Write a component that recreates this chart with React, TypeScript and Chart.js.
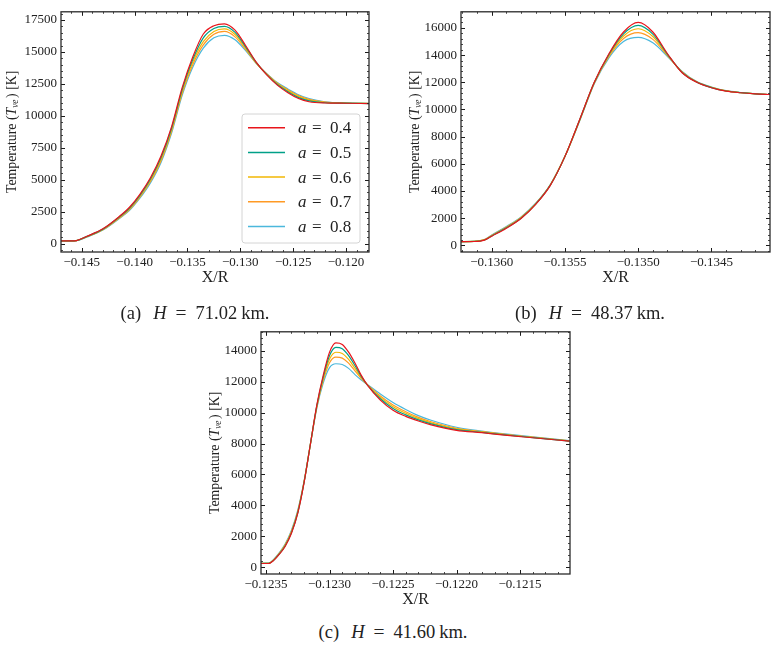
import React, { useEffect, useRef } from "react";
import { Chart, registerables } from "chart.js";

Chart.register(...registerables);

const SERIF = "'Liberation Serif', 'Times New Roman', serif";

// Shared series styling
const aLabels = ["a = 0.4", "a = 0.5", "a = 0.6", "a = 0.7", "a = 0.8"];
const lineColors = ["#e8151b", "#00a088", "#f2b705", "#ff9a24", "#4bb8dc"];

// ---------- Panel (a): H = 71.02 km ----------
const xA = [-0.147, -0.146, -0.1455, -0.1445, -0.143, -0.1415, -0.1405, -0.1395, -0.1385, -0.1375, -0.1365, -0.1355, -0.1345, -0.1335, -0.1325, -0.1315, -0.1305, -0.1295, -0.1285, -0.1275, -0.1265, -0.1255, -0.1245, -0.1235, -0.122, -0.12, -0.1178];
const tA04 = [200, 200, 232, 570, 1150, 2080, 2820, 3850, 5150, 6850, 9150, 12200, 14600, 16400, 17050, 17200, 16700, 15500, 14200, 13200, 12400, 11800, 11350, 11100, 11000, 10980, 10950];
const tA05 = [200, 200, 229, 555, 1125, 2040, 2760, 3775, 5050, 6725, 9025, 12050, 14400, 16100, 16830, 17000, 16530, 15400, 14180, 13220, 12450, 11880, 11420, 11160, 11020, 10985, 10955];
const tA06 = [200, 200, 225, 540, 1100, 2000, 2700, 3700, 4950, 6600, 8900, 11900, 14200, 15800, 16600, 16800, 16360, 15300, 14150, 13250, 12500, 11950, 11500, 11220, 11050, 10990, 10960];
const tA07 = [200, 200, 222, 525, 1075, 1960, 2640, 3625, 4850, 6475, 8775, 11750, 14000, 15550, 16380, 16600, 16180, 15200, 14120, 13280, 12550, 12030, 11580, 11290, 11080, 10995, 10965];
const tA08 = [200, 200, 218, 510, 1050, 1920, 2580, 3550, 4750, 6350, 8650, 11600, 13800, 15300, 16100, 16300, 15950, 15100, 14100, 13300, 12600, 12100, 11650, 11350, 11100, 11000, 10970];
const xTicksA = [-0.145, -0.14, -0.135, -0.13, -0.125, -0.12];
const yTicksA = [0, 2500, 5000, 7500, 10000, 12500, 15000, 17500];

// ---------- Panel (b): H = 48.37 km ----------
const xB = [-0.13621, -0.13612, -0.13605, -0.136, -0.1359, -0.1358, -0.1357, -0.1356, -0.1355, -0.1354, -0.1353, -0.1352, -0.1351, -0.135, -0.1349, -0.1348, -0.1347, -0.1346, -0.1345, -0.1344, -0.1343, -0.1342, -0.1341];
const tB04 = [280, 290, 390, 680, 1270, 1980, 3020, 4420, 6550, 9250, 12000, 14100, 15700, 16400, 15700, 14100, 12700, 12000, 11600, 11350, 11230, 11150, 11100];
const tB05 = [280, 292, 400, 698, 1294, 2004, 3036, 4432, 6550, 9230, 11980, 14040, 15560, 16180, 15540, 14060, 12720, 12010, 11610, 11356, 11234, 11152, 11100];
const tB06 = [280, 294, 411, 718, 1320, 2030, 3054, 4445, 6550, 9208, 11958, 13974, 15406, 15938, 15364, 14016, 12742, 12021, 11621, 11363, 11238, 11154, 11100];
const tB07 = [280, 297, 424, 741, 1352, 2062, 3074, 4461, 6550, 9182, 11932, 13896, 15224, 15652, 15156, 13964, 12768, 12034, 11634, 11370, 11244, 11157, 11100];
const tB08 = [280, 300, 440, 770, 1390, 2100, 3100, 4480, 6550, 9150, 11900, 13800, 15000, 15300, 14900, 13900, 12800, 12050, 11650, 11380, 11250, 11160, 11100];
const xTicksB = [-0.136, -0.1355, -0.135, -0.1345];
const yTicksB = [0, 2000, 4000, 6000, 8000, 10000, 12000, 14000, 16000];

// ---------- Panel (c): H = 41.60 km ----------
const xC = [-0.12354, -0.12348, -0.12344, -0.1234, -0.12335, -0.1233, -0.12325, -0.1232, -0.12315, -0.1231, -0.12305, -0.123, -0.12295, -0.1229, -0.12285, -0.1228, -0.12275, -0.1227, -0.1226, -0.1225, -0.1224, -0.1223, -0.1222, -0.122, -0.1218, -0.1216, -0.1214, -0.12111];
const tC04 = [250, 250, 450, 800, 1350, 2200, 3500, 5500, 8000, 10500, 12400, 13900, 14500, 14400, 13900, 13200, 12400, 11750, 10800, 10150, 9750, 9450, 9200, 8850, 8700, 8520, 8370, 8150];
const tC05 = [252, 254, 465, 822, 1383, 2244, 3544, 5522, 8000, 10456, 12290, 13680, 14203, 14114, 13669, 13035, 12334, 11761, 10888, 10260, 9849, 9527, 9266, 8894, 8722, 8538, 8383, 8157];
const tC06 = [254, 259, 481, 845, 1418, 2290, 3590, 5545, 8000, 10410, 12175, 13450, 13893, 13815, 13428, 12863, 12265, 11773, 10980, 10375, 9953, 9608, 9335, 8940, 8745, 8556, 8397, 8164];
const tC07 = [257, 264, 500, 868, 1452, 2336, 3636, 5568, 8000, 10364, 12060, 13220, 13582, 13516, 13186, 12690, 12196, 11784, 11072, 10490, 10056, 9688, 9404, 8986, 8768, 8574, 8411, 8170];
const tC08 = [260, 270, 520, 900, 1500, 2400, 3700, 5600, 8000, 10300, 11900, 12900, 13150, 13100, 12850, 12450, 12100, 11800, 11200, 10650, 10200, 9800, 9500, 9050, 8800, 8600, 8430, 8180];
const xTicksC = [-0.1235, -0.123, -0.1225, -0.122, -0.1215];
const yTicksC = [0, 2000, 4000, 6000, 8000, 10000, 12000, 14000];

type Panel = {
  xs: number[];
  series: number[][];
  xTicks: number[];
  yTicks: number[];
  xRange: [number, number];
  yRange: [number, number];
  xMinor: number;
  yMinor: number;
  xDecimals: number;
  legend: boolean;
  // canvas placement and plot-area insets (px)
  box: { left: number; top: number; width: number; height: number };
  inset: { left: number; top: number; right: number; bottom: number };
  yTitleX: number;
  xTitleY: number;
};

const panels: Panel[] = [
  {
    xs: xA, series: [tA04, tA05, tA06, tA07, tA08], xTicks: xTicksA, yTicks: yTicksA,
    xRange: [-0.14696, -0.11783], yRange: [-665, 18140], xMinor: 0.001, yMinor: 500, xDecimals: 3, legend: true,
    box: { left: 0, top: 0, width: 385, height: 300 },
    inset: { left: 61, top: 6, right: 16, bottom: 48 },
    yTitleX: 12, xTitleY: 278,
  },
  {
    xs: xB, series: [tB04, tB05, tB06, tB07, tB08], xTicks: xTicksB, yTicks: yTicksB,
    xRange: [-0.13621, -0.1341], yRange: [-484, 17184], xMinor: 0.0001, yMinor: 400, xDecimals: 4, legend: false,
    box: { left: 390, top: 0, width: 387, height: 300 },
    inset: { left: 71, top: 7, right: 7, bottom: 48 },
    yTitleX: 25, xTitleY: 278,
  },
  {
    xs: xC, series: [tC04, tC05, tC06, tC07, tC08], xTicks: xTicksC, yTicks: yTicksC,
    xRange: [-0.12354, -0.121106], yRange: [-428, 15214], xMinor: 0.0001, yMinor: 400, xDecimals: 4, legend: false,
    box: { left: 190, top: 320, width: 400, height: 300 },
    inset: { left: 71, top: 9, right: 20, bottom: 46 },
    yTitleX: 25, xTitleY: 280,
  },
];

function fmtMinus(s: string) {
  return s.replace("-", "\u2212");
}

function minorValues(min: number, max: number, step: number) {
  const out: number[] = [];
  const start = Math.ceil(min / step - 1e-9);
  const end = Math.floor(max / step + 1e-9);
  for (let i = start; i <= end; i++) out.push(i * step);
  return out;
}

function decorPlugin(p: Panel) {
  return {
    id: "panelDecor",
    afterDraw(chart: any) {
      const { ctx, chartArea: ca, scales } = chart;
      const xs = scales.x;
      const ys = scales.y;
      ctx.save();

      // inward ticks on all four sides
      ctx.strokeStyle = "#1a1a1a";
      ctx.lineWidth = 0.8;
      const drawX = (vals: number[], len: number) => {
        for (const v of vals) {
          const px = Math.round(xs.getPixelForValue(v)) + 0.5;
          if (px < ca.left || px > ca.right) continue;
          ctx.beginPath();
          ctx.moveTo(px, ca.bottom);
          ctx.lineTo(px, ca.bottom - len);
          ctx.moveTo(px, ca.top);
          ctx.lineTo(px, ca.top + len);
          ctx.stroke();
        }
      };
      const drawY = (vals: number[], len: number) => {
        for (const v of vals) {
          const py = Math.round(ys.getPixelForValue(v)) + 0.5;
          if (py < ca.top || py > ca.bottom) continue;
          ctx.beginPath();
          ctx.moveTo(ca.left, py);
          ctx.lineTo(ca.left + len, py);
          ctx.moveTo(ca.right, py);
          ctx.lineTo(ca.right - len, py);
          ctx.stroke();
        }
      };
      drawX(minorValues(p.xRange[0], p.xRange[1], p.xMinor), 2);
      drawY(minorValues(p.yRange[0], p.yRange[1], p.yMinor), 2);
      ctx.lineWidth = 1;
      drawX(p.xTicks, 4);
      drawY(p.yTicks, 4);

      // frame
      ctx.strokeStyle = "#2a2a2a";
      ctx.lineWidth = 1.3;
      ctx.strokeRect(ca.left, ca.top, ca.right - ca.left, ca.bottom - ca.top);

      // x title
      ctx.fillStyle = "#222";
      ctx.font = `16px ${SERIF}`;
      ctx.textAlign = "center";
      ctx.textBaseline = "middle";
      ctx.fillText("X/R", (ca.left + ca.right) / 2, p.xTitleY);

      // y title with italic symbol and subscript
      const segs = [
        { t: "Temperature (", f: `13.8px ${SERIF}`, dy: 0, gap: 0 },
        { t: "T", f: `italic 13.8px ${SERIF}`, dy: 0, gap: 0 },
        { t: "ve", f: `italic 9.5px ${SERIF}`, dy: 3, gap: 1.5 },
        { t: ") [K]", f: `13.8px ${SERIF}`, dy: 0, gap: 0 },
      ];
      let total = 0;
      for (const s of segs) {
        ctx.font = s.f;
        total += ctx.measureText(s.t).width + s.gap;
      }
      ctx.translate(p.yTitleX, (ca.top + ca.bottom) / 2);
      ctx.rotate(-Math.PI / 2);
      ctx.textAlign = "left";
      let cx = -total / 2;
      for (const s of segs) {
        ctx.font = s.f;
        ctx.fillText(s.t, cx, s.dy);
        cx += ctx.measureText(s.t).width + s.gap;
      }
      ctx.setTransform(1, 0, 0, 1, 0, 0);

      // legend box in the lower right of the plot area
      if (p.legend) {
        const w = 118;
        const h = 129;
        const bx = ca.right - 9 - w;
        const by = ca.bottom - 9 - h;
        const r = 3;
        ctx.beginPath();
        ctx.moveTo(bx + r, by);
        ctx.arcTo(bx + w, by, bx + w, by + h, r);
        ctx.arcTo(bx + w, by + h, bx, by + h, r);
        ctx.arcTo(bx, by + h, bx, by, r);
        ctx.arcTo(bx, by, bx + w, by, r);
        ctx.closePath();
        ctx.fillStyle = "rgba(255,255,255,0.85)";
        ctx.fill();
        ctx.strokeStyle = "#d4d4d4";
        ctx.lineWidth = 1;
        ctx.stroke();

        const fs = 17;
        chart.data.datasets.forEach((ds: any, i: number) => {
          const ry = by + 13.7 + i * 24.7;
          ctx.strokeStyle = ds.borderColor;
          ctx.lineWidth = 1.5;
          ctx.beginPath();
          ctx.moveTo(bx + 6, ry);
          ctx.lineTo(bx + 43, ry);
          ctx.stroke();
          const label: string = ds.label;
          const sym = label.charAt(0);
          const val = label.split("=")[1].trim();
          const tx = bx + 56;
          ctx.fillStyle = "#222";
          ctx.textBaseline = "middle";
          ctx.textAlign = "left";
          ctx.font = `italic ${fs}px ${SERIF}`;
          ctx.fillText(sym, tx, ry + 1);
          ctx.font = `${fs}px ${SERIF}`;
          ctx.fillText("=", tx + 0.82 * fs, ry + 1);
          ctx.fillText(val, tx + 1.88 * fs, ry + 1);
        });
      }
      ctx.restore();
    },
  };
}

function PanelChart({ p }: { p: Panel }) {
  const ref = useRef<HTMLCanvasElement | null>(null);
  useEffect(() => {
    if (!ref.current) return;
    const datasets = p.series.map((ys, i) => ({
      label: aLabels[i],
      data: p.xs.map((x, j) => ({ x, y: ys[j] })),
      borderColor: lineColors[i],
      backgroundColor: lineColors[i],
      borderWidth: 1.2,
      pointRadius: 0,
      cubicInterpolationMode: "monotone" as const,
      fill: false,
    }));
    const tickFont = { family: SERIF, size: 13 };
    const chart = new Chart(ref.current, {
      type: "line",
      data: { datasets },
      options: {
        animation: false,
        responsive: false,
        events: [],
        layout: { padding: { top: p.inset.top, right: p.inset.right, left: 0, bottom: 0 } },
        plugins: { legend: { display: false }, tooltip: { enabled: false } },
        scales: {
          x: {
            type: "linear",
            min: p.xRange[0],
            max: p.xRange[1],
            grid: { display: false, drawTicks: false },
            border: { display: false },
            afterBuildTicks: (scale: any) => {
              scale.ticks = p.xTicks.map((v) => ({ value: v }));
            },
            afterFit: (scale: any) => {
              scale.height = p.inset.bottom;
            },
            ticks: {
              autoSkip: false,
              maxRotation: 0,
              padding: 3,
              color: "#222",
              font: tickFont,
              callback: (v: any) => fmtMinus(Number(v).toFixed(p.xDecimals)),
            },
          },
          y: {
            type: "linear",
            min: p.yRange[0],
            max: p.yRange[1],
            grid: { display: false, drawTicks: false },
            border: { display: false },
            afterBuildTicks: (scale: any) => {
              scale.ticks = p.yTicks.map((v) => ({ value: v }));
            },
            afterFit: (scale: any) => {
              scale.width = p.inset.left;
            },
            ticks: {
              autoSkip: false,
              padding: 4,
              color: "#222",
              font: tickFont,
              callback: (v: any) => String(Math.round(Number(v))),
            },
          },
        },
      },
      plugins: [decorPlugin(p)],
    } as any);
    return () => chart.destroy();
  }, [p]);
  return (
    <canvas
      ref={ref}
      width={p.box.width}
      height={p.box.height}
      style={{ position: "absolute", left: p.box.left, top: p.box.top, width: p.box.width, height: p.box.height }}
    />
  );
}

const captions = [
  { tag: "(a)", value: "71.02", cx: 195, cy: 313 },
  { tag: "(b)", value: "48.37", cx: 590, cy: 313 },
  { tag: "(c)", value: "41.60", cx: 393, cy: 632 },
];

function Caption({ tag, value, cx, cy }: { tag: string; value: string; cx: number; cy: number }) {
  return (
    <div
      style={{
        position: "absolute",
        left: cx - 150,
        top: cy - 11,
        width: 300,
        height: 22,
        display: "flex",
        justifyContent: "center",
        alignItems: "baseline",
        lineHeight: "22px",
        fontFamily: SERIF,
        fontSize: 18.5,
        color: "#222",
        whiteSpace: "pre",
      }}
    >
      <span style={{ marginRight: 12 }}>{tag}</span>
      <i style={{ marginRight: 9 }}>H</i>
      <span style={{ marginRight: 9, fontSize: 19.5 }}>=</span>
      <span style={{ marginRight: 4 }}>{value}</span>
      <span>km.</span>
    </div>
  );
}

export default function App() {
  return (
    <div style={{ position: "absolute", left: 0, top: 0, width: 777, height: 650, background: "#fff", overflow: "hidden" }}>
      {panels.map((p, i) => (
        <PanelChart key={i} p={p} />
      ))}
      {captions.map((c) => (
        <Caption key={c.tag} {...c} />
      ))}
    </div>
  );
}
